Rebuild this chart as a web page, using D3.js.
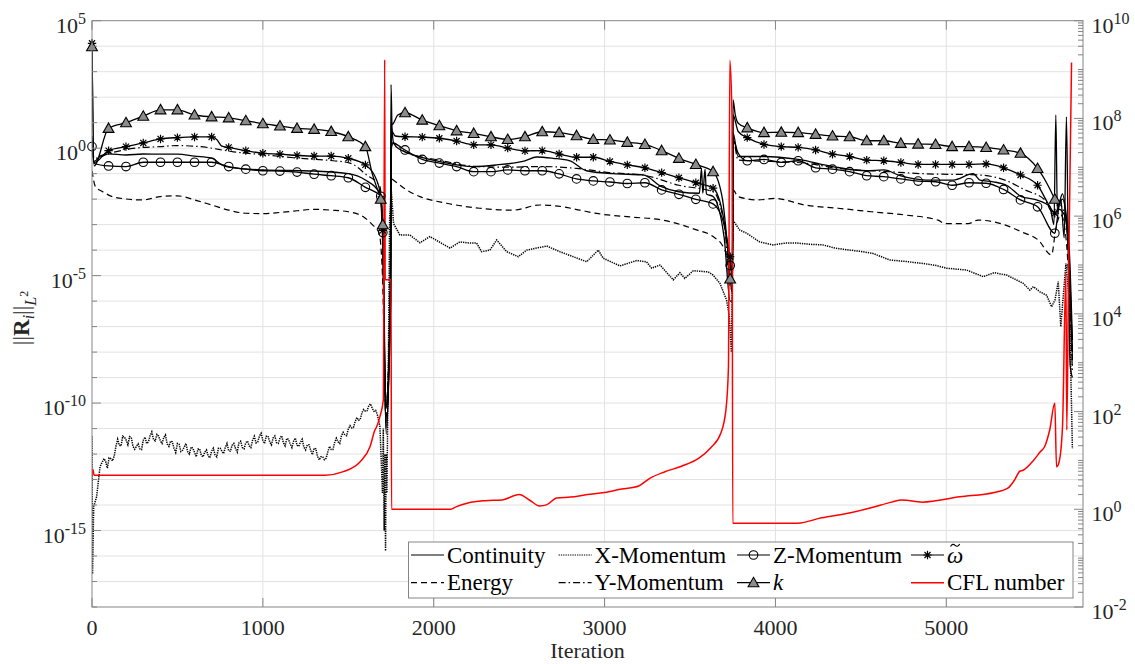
<!DOCTYPE html>
<html>
<head>
<meta charset="utf-8">
<script src="https://cdn.jsdelivr.net/npm/d3@7"></script>
<style>
  body { margin: 0; background: #fff; }
  svg text { font-family: "Liberation Serif", "DejaVu Serif", "Noto Serif", "Times New Roman", Times, serif; }
</style>
</head>
<body>
<svg id="vis" width="1135" height="664"></svg>
<script>
// residual histories: [iteration, value]
const markerIters = [0, 97, 199, 300, 401, 500, 600, 700, 800, 900, 1000, 1100, 1200, 1300, 1400, 1500, 1600, 1690, 1702,
  1832, 1933, 2033, 2134, 2234, 2335, 2433, 2534, 2635, 2734, 2836, 2934, 3031, 3133, 3236, 3334, 3435, 3534, 3635, 3735,
  3835, 3933, 4034, 4133, 4235, 4334, 4434, 4534, 4634, 4734, 4835, 4937, 5034, 5133, 5233, 5335, 5434, 5534, 5635];

const continuity = [[0, 2.0e0], [12, 3.0e-1], [50, 5.0e-1], [97, 6.0e-1], [199, 5.4e-1], [300, 5.9e-1], [401, 5.8e-1], [500, 5.8e-1],
  [600, 4.9e-1], [700, 4.1e-1], [760, 2.2e-1], [800, 1.8e-1], [1000, 1.4e-1], [1300, 1.26e-1], [1500, 1.0e-1], [1600, 5.6e-2],
  [1685, 1.7e-2], [1700, 3.0e-4], [1722, 6.0e-12], [1746, 1.0e-5], [1750, 3.1e2], [1756, 6.3e0], [1765, 1.6e0], [1800, 9.0e-1],
  [1832, 7.2e-1], [2033, 3.0e-1], [2234, 1.9e-1], [2368, 2.2e-1], [2534, 3.2e-1], [2602, 4.5e-1], [2699, 4.0e-1], [2797, 3.2e-1],
  [2894, 1.3e-1], [3050, 1.0e-1], [3226, 8.9e-2], [3333, 3.1e-2], [3435, 1.95e-2], [3555, 1.7e-2], [3567, 1.6e-1], [3575, 1.7e-2],
  [3588, 1.5e-1], [3596, 1.6e-2], [3635, 1.26e-2], [3700, 3.0e-4], [3735, 1.0e-6], [3748, 1.0e-6], [3752, 4.0e0], [3781, 4.7e-1],
  [3932, 4.7e-1], [4133, 3.6e-1], [4334, 1.9e-1], [4533, 1.3e-1], [4634, 1.4e-1], [4734, 8.1e-2], [4884, 5.6e-2], [5040, 5.6e-2],
  [5157, 1.0e-1], [5197, 5.6e-2], [5274, 4.8e-2], [5352, 3.5e-2], [5440, 1.26e-2], [5528, 9.3e-3], [5606, 5.0e-3], [5630, 1.0e-3],
  [5641, 2.0e1], [5650, 3.0e-3], [5670, 1.0e-2], [5690, 3.0e-4], [5703, 1.7e1], [5712, 1.0e-3], [5725, 3.0e-9], [5738, 1.0e-9]];

const xMom = [[0, 5.0e-12], [3, 2.0e-17], [10, 8.7e-15], [27, 2.1e-14], [47, 3.2e-13],
  [70, 6.6e-13], [80, 5.1e-13], [90, 2.8e-13], [100, 7.1e-13], [110, 6.6e-13], [120, 5.4e-13], [130, 8.3e-13], [140, 2.0e-12],
  [150, 3.8e-12], [160, 2.2e-12], [170, 2.1e-12], [180, 5.0e-12], [190, 4.6e-12], [200, 3.5e-12], [210, 2.3e-12], [220, 4.8e-12],
  [230, 4.4e-12], [240, 2.0e-12], [250, 1.55e-12], [260, 2.0e-12], [270, 2.5e-12], [280, 1.6e-12], [290, 1.5e-12], [300, 3.5e-12],
  [310, 4.6e-12], [320, 2.6e-12], [330, 3.0e-12], [340, 5.2e-12], [350, 7.4e-12], [360, 3.7e-12], [370, 3.3e-12], [380, 5.9e-12],
  [390, 5.0e-12], [400, 3.3e-12], [410, 2.6e-12], [420, 4.5e-12], [430, 5.6e-12], [440, 2.5e-12], [450, 2.0e-12], [460, 3.2e-12],
  [470, 3.0e-12], [480, 1.7e-12], [490, 1.15e-12], [500, 2.6e-12], [510, 2.4e-12], [520, 1.26e-12], [530, 1.4e-12], [540, 1.9e-12],
  [550, 2.6e-12], [560, 1.23e-12], [570, 1.0e-12], [580, 1.9e-12], [590, 1.7e-12], [600, 1.17e-12], [610, 7.8e-13], [620, 1.55e-12],
  [630, 1.6e-12], [640, 8.9e-13], [650, 7.8e-13], [660, 1.2e-12], [670, 1.45e-12], [680, 8.5e-13], [690, 7.1e-13], [700, 1.3e-12],
  [710, 1.7e-12], [720, 9.3e-13], [730, 7.8e-13], [740, 1.7e-12], [750, 1.7e-12], [760, 1.3e-12], [770, 1.05e-12], [780, 1.8e-12],
  [790, 2.6e-12], [800, 1.35e-12], [810, 1.3e-12], [820, 2.2e-12], [830, 2.6e-12], [840, 1.66e-12], [850, 1.2e-12], [860, 2.75e-12],
  [870, 3.2e-12], [880, 1.8e-12], [890, 1.6e-12], [900, 2.8e-12], [910, 3.2e-12], [920, 2.1e-12], [930, 1.8e-12], [940, 3.5e-12],
  [950, 5.0e-12], [960, 2.75e-12], [970, 3.0e-12], [980, 5.1e-12], [990, 6.6e-12], [1000, 3.4e-12], [1010, 2.6e-12], [1020, 5.0e-12],
  [1030, 5.1e-12], [1040, 3.0e-12], [1050, 2.3e-12], [1060, 4.3e-12], [1070, 5.1e-12], [1080, 2.8e-12], [1090, 2.6e-12],
  [1100, 4.1e-12], [1110, 5.2e-12], [1120, 2.8e-12], [1130, 2.1e-12], [1140, 4.1e-12], [1150, 3.8e-12], [1160, 2.45e-12],
  [1170, 1.8e-12], [1180, 3.2e-12], [1190, 4.2e-12], [1200, 2.2e-12], [1210, 2.0e-12], [1220, 2.9e-12], [1230, 3.8e-12],
  [1240, 1.86e-12], [1250, 1.45e-12], [1260, 2.3e-12], [1270, 2.3e-12], [1280, 1.4e-12], [1290, 9.5e-13], [1300, 1.7e-12],
  [1310, 1.6e-12], [1320, 8.1e-13], [1330, 5.9e-13], [1340, 7.9e-13], [1350, 7.9e-13], [1360, 6.0e-13], [1370, 6.8e-13],
  [1380, 1.2e-12], [1390, 2.0e-12], [1400, 1.5e-12], [1410, 1.5e-12], [1420, 2.8e-12], [1430, 4.2e-12], [1440, 3.0e-12],
  [1450, 2.6e-12], [1460, 5.2e-12], [1470, 7.1e-12], [1480, 5.6e-12], [1490, 5.2e-12], [1500, 9.5e-12], [1510, 1.3e-11],
  [1520, 1.07e-11], [1530, 1.1e-11], [1540, 1.86e-11], [1550, 2.7e-11], [1560, 2.1e-11], [1570, 2.3e-11], [1580, 4.2e-11],
  [1590, 5.6e-11], [1600, 4.8e-11], [1610, 5.0e-11], [1620, 7.9e-11], [1630, 9.3e-11], [1640, 6.3e-11], [1650, 4.8e-11],
  [1660, 5.2e-11], [1670, 3.5e-11], [1685, 1.2e-11],
  [1700, 3.0e-14], [1705, 1.0e-11], [1710, 1.0e-15], [1714, 1.0e-12], [1718, 1.6e-16], [1722, 1.0e-12], [1726, 3.0e-14],
  [1730, 1.0e-11], [1735, 1.0e-8], [1742, 1.8e-3], [1752, 2.0e-2], [1765, 1.1e-3], [1802, 3.9e-4], [1861, 3.9e-4], [1919, 1.95e-4],
  [1978, 3.4e-4], [2095, 1.2e-4], [2153, 2.1e-4], [2212, 1.9e-4], [2251, 1.9e-4], [2280, 8.7e-5], [2329, 1.0e-4], [2368, 2.5e-4],
  [2427, 8.7e-5], [2495, 5.5e-5], [2544, 1.0e-4], [2661, 1.45e-4], [2738, 8.7e-5], [2895, 3.5e-5], [2963, 1.0e-4], [2992, 4.8e-5],
  [3090, 2.4e-5], [3187, 3.9e-5], [3245, 3.5e-5], [3275, 1.95e-5], [3324, 2.6e-5], [3402, 6.8e-6], [3441, 1.3e-5], [3470, 7.8e-6],
  [3519, 1.55e-5], [3606, 1.4e-5], [3635, 1.05e-5], [3675, 5.0e-6], [3714, 1.1e-6], [3730, 2.5e-7], [3742, 1.0e-8], [3752, 1.5e-3],
  [3790, 6.2e-4], [3831, 4.6e-4], [3908, 2.1e-4], [3986, 1.6e-4], [4060, 1.9e-4], [4122, 1.9e-4], [4200, 1.7e-4], [4278, 1.6e-4],
  [4350, 1.2e-4], [4435, 1.0e-4], [4500, 8.9e-5], [4571, 7.4e-5], [4669, 4.1e-5], [4760, 3.6e-5], [4864, 3.0e-5], [4940, 2.5e-5],
  [5001, 1.95e-5], [5118, 1.66e-5], [5216, 9.1e-6], [5280, 1.3e-5], [5353, 1.05e-5], [5450, 5.0e-6], [5489, 2.7e-6], [5510, 3.7e-6],
  [5548, 2.3e-6], [5587, 1.7e-6], [5616, 6.0e-7], [5636, 1.1e-6], [5655, 5.8e-6], [5670, 1.0e-7], [5700, 3.0e-5], [5720, 1.0e-6],
  [5738, 1.6e-12]];

const yMom = [[0, 3.0e0], [12, 4.0e-1], [105, 6.3e-1], [242, 9.8e-1], [398, 1.15e0], [496, 1.26e0], [632, 1.15e0], [827, 7.2e-1],
  [1022, 5.4e-1], [1217, 4.0e-1], [1412, 3.2e-1], [1510, 2.6e-1], [1607, 8.9e-2], [1685, 3.1e-2], [1700, 1.0e-3], [1720, 2.5e-11],
  [1746, 1.0e-5], [1752, 1.6e0], [1763, 1.6e0], [1832, 7.1e-1], [2033, 3.4e-1], [2234, 1.95e-1], [2433, 1.8e-1], [2635, 1.9e-1],
  [2836, 1.6e-1], [3031, 1.1e-1], [3236, 8.5e-2], [3435, 3.5e-2], [3635, 1.95e-2], [3700, 1.0e-3], [3735, 1.0e-5], [3748, 1.0e-5],
  [3752, 2.5e0], [3781, 3.4e-1], [3976, 3.0e-1], [4171, 2.6e-1], [4366, 1.6e-1], [4659, 1.2e-1], [4854, 1.0e-1], [5186, 8.9e-2],
  [5343, 5.6e-2], [5460, 2.3e-2], [5577, 9.3e-3], [5620, 3.2e-3], [5660, 6.3e-3], [5700, 1.6e-3], [5738, 1.6e-9]];

const zMom = [[0, 1.15e0], [12, 2.5e-1], [97, 2.0e-1], [199, 1.9e-1], [300, 2.8e-1], [401, 2.8e-1], [500, 2.8e-1], [600, 2.8e-1],
  [700, 2.8e-1], [800, 1.9e-1], [900, 1.5e-1], [1000, 1.3e-1], [1100, 1.26e-1], [1200, 1.15e-1], [1300, 9.5e-2], [1400, 8.3e-2],
  [1500, 6.9e-2], [1600, 2.9e-2], [1690, 1.3e-2], [1702, 4.9e-4], [1720, 1.0e-11], [1748, 1.0e-6], [1752, 1.0e0], [1763, 1.55e0],
  [1832, 8.5e-1], [1933, 3.6e-1], [2033, 2.6e-1], [2134, 1.9e-1], [2234, 1.2e-1], [2335, 1.2e-1], [2433, 1.4e-1], [2534, 1.3e-1],
  [2635, 1.3e-1], [2734, 9.8e-2], [2836, 6.2e-2], [2934, 5.2e-2], [3031, 4.7e-2], [3133, 4.1e-2], [3236, 4.4e-2], [3334, 2.3e-2],
  [3435, 1.55e-2], [3534, 9.8e-3], [3635, 6.5e-3], [3700, 1.0e-3], [3735, 2.5e-5], [3748, 1.0e-5], [3752, 2.1e0], [3782, 6.3e-1],
  [3835, 3.2e-1], [3933, 3.6e-1], [4034, 2.75e-1], [4133, 3.2e-1], [4235, 1.7e-1], [4334, 1.5e-1], [4434, 1.2e-1], [4534, 8.3e-2],
  [4634, 7.6e-2], [4734, 6.2e-2], [4835, 5.1e-2], [4937, 4.8e-2], [5034, 3.5e-2], [5133, 4.4e-2], [5233, 4.2e-2], [5335, 2.4e-2],
  [5434, 9.3e-3], [5534, 5.0e-3], [5635, 4.6e-4], [5660, 4.0e-3], [5690, 2.5e-3], [5715, 1.6e-4], [5738, 5.0e-9]];

const energy = [[0, 1.3e-1], [20, 3.1e-2], [60, 2.0e-2], [140, 1.15e-2], [300, 9.3e-3], [400, 1.26e-2], [500, 1.35e-2], [600, 9.3e-3],
  [700, 5.9e-3], [800, 3.7e-3], [900, 2.8e-3], [1000, 2.7e-3], [1100, 3.0e-3], [1200, 3.5e-3], [1300, 4.0e-3], [1400, 3.7e-3],
  [1500, 3.2e-3], [1590, 2.0e-3], [1640, 1.0e-3], [1680, 4.7e-4], [1700, 1.0e-5], [1720, 6.3e-11], [1746, 1.0e-5], [1752, 6.3e-2],
  [1763, 5.6e-2], [1841, 2.3e-2], [1919, 1.26e-2], [2075, 6.9e-3], [2270, 4.4e-3], [2465, 3.7e-3], [2621, 5.9e-3], [2758, 5.0e-3],
  [2856, 3.7e-3], [2953, 2.75e-3], [3148, 2.0e-3], [3343, 1.5e-3], [3538, 6.2e-4], [3635, 3.4e-4], [3694, 1.35e-4], [3715, 5.5e-5],
  [3735, 3.0e-6], [3748, 3.0e-6], [3752, 2.3e-2], [3781, 1.26e-2], [3898, 9.3e-3], [3996, 1.07e-2], [4171, 5.9e-3], [4366, 4.4e-3],
  [4561, 3.2e-3], [4756, 2.4e-3], [4952, 1.5e-3], [4991, 1.1e-3], [5128, 1.1e-3], [5186, 1.5e-3], [5343, 9.8e-4], [5440, 5.2e-4],
  [5538, 2.5e-4], [5616, 6.5e-5], [5640, 6.3e-4], [5670, 2.5e-3], [5700, 3.2e-4], [5738, 3.0e-9]];

const omegaRes = [[0, 1.3e4], [12, 2.7e-1], [97, 8.0e-1], [199, 1.15e0], [300, 1.6e0], [401, 2.3e0], [500, 2.6e0], [600, 2.75e0],
  [700, 2.75e0], [730, 2.2e0], [760, 1.2e0], [800, 1.07e0], [900, 8.0e-1], [1000, 6.3e-1], [1100, 5.8e-1], [1200, 5.2e-1],
  [1300, 4.9e-1], [1400, 4.9e-1], [1500, 4.0e-1], [1600, 2.2e-1], [1675, 3.8e-2], [1690, 1.0e-2], [1702, 6.0e-4], [1720, 1.6e-11],
  [1748, 1.0e-6], [1752, 5.0e0], [1775, 3.0e0], [1832, 2.8e0], [1933, 2.7e0], [2033, 2.45e0], [2134, 1.9e0], [2234, 1.35e0],
  [2335, 1.35e0], [2433, 1.0e0], [2534, 7.8e-1], [2635, 8.0e-1], [2734, 5.9e-1], [2836, 4.4e-1], [2934, 4.4e-1], [3031, 3.0e-1],
  [3133, 2.2e-1], [3236, 1.7e-1], [3334, 1.1e-1], [3435, 6.9e-2], [3534, 4.4e-2], [3635, 2.7e-2], [3690, 3.0e-3], [3715, 3.0e-4],
  [3735, 5.5e-5], [3748, 1.0e-5], [3752, 2.0e1], [3782, 4.5e0], [3835, 2.6e0], [3933, 1.4e0], [4034, 1.15e0], [4133, 1.07e0],
  [4235, 8.5e-1], [4334, 5.8e-1], [4434, 4.7e-1], [4534, 3.4e-1], [4634, 3.2e-1], [4734, 2.75e-1], [4835, 2.3e-1], [4937, 2.3e-1],
  [5034, 2.3e-1], [5133, 2.3e-1], [5233, 2.4e-1], [5335, 1.7e-1], [5434, 8.9e-2], [5534, 3.5e-2], [5600, 6.0e-3], [5635, 2.8e-3],
  [5680, 1.0e-2], [5710, 3.0e-4], [5738, 1.0e-8]];

const kRes = [[0, 9.5e3], [12, 2.0e-1], [97, 6.0e0], [199, 1.0e1], [300, 1.8e1], [401, 3.2e1], [500, 3.2e1], [600, 2.0e1],
  [700, 1.7e1], [800, 1.55e1], [900, 1.2e1], [1000, 9.1e0], [1100, 7.4e0], [1200, 6.0e0], [1300, 5.5e0], [1400, 4.5e0],
  [1500, 2.8e0], [1600, 1.15e0], [1640, 1.0e-1], [1675, 2.0e-2], [1690, 1.0e-2], [1702, 1.0e-3], [1720, 1.0e-10], [1748, 1.0e-6],
  [1752, 8.0e0], [1763, 9.3e0], [1790, 2.0e1], [1832, 2.45e1], [1933, 1.26e1], [2033, 7.6e0], [2134, 4.8e0], [2234, 3.8e0],
  [2335, 2.8e0], [2433, 2.2e0], [2534, 2.8e0], [2635, 4.4e0], [2734, 4.1e0], [2836, 3.1e0], [2934, 2.2e0], [3031, 2.1e0],
  [3133, 1.7e0], [3236, 1.4e0], [3334, 8.0e-1], [3435, 4.0e-1], [3534, 2.3e-1], [3635, 1.2e-1], [3690, 1.0e-2], [3715, 3.0e-4],
  [3735, 7.4e-6], [3748, 2.0e-6], [3752, 7.8e1], [3765, 2.0e1], [3782, 9.5e0], [3835, 6.3e0], [3933, 4.1e0], [4034, 4.2e0],
  [4133, 4.1e0], [4235, 3.5e0], [4334, 3.0e0], [4434, 2.8e0], [4534, 1.95e0], [4634, 1.95e0], [4734, 1.55e0], [4835, 1.45e0],
  [4937, 1.4e0], [5034, 1.15e0], [5133, 1.15e0], [5233, 1.07e0], [5335, 8.5e-1], [5434, 6.3e-1], [5534, 1.6e-1], [5600, 3.0e-2],
  [5635, 1.0e-2], [5655, 6.0e-3], [5680, 1.6e-2], [5700, 3.0e-3], [5720, 1.0e-4], [5738, 3.0e-8]];

// right axis
const cfl = [[0, 5.0e0], [5, 6.6e0], [12, 5.0e0], [1364, 5.0e0], [1471, 5.9e0], [1568, 9.3e0], [1627, 1.9e1], [1656, 4.2e1],
  [1666, 4.9e1], [1685, 7.9e1], [1705, 1.74e2], [1713, 1.6e9], [1716, 5.0e4], [1750, 5.0e4], [1753, 1.0e0], [2100, 1.0e0],
  [2130, 1.12e0], [2200, 1.35e0], [2300, 1.5e0], [2400, 1.55e0], [2500, 2.0e0], [2560, 1.55e0], [2620, 1.17e0], [2660, 1.23e0],
  [2720, 1.7e0], [2800, 1.78e0], [2900, 2.0e0], [3000, 2.2e0], [3100, 2.6e0], [3200, 3.0e0], [3260, 4.2e0], [3350, 5.8e0],
  [3450, 7.6e0], [3550, 1.1e1], [3620, 1.8e1], [3680, 3.6e1], [3710, 1.07e2], [3725, 8.3e2], [3733, 1.55e9], [3746, 1.0e8],
  [3750, 5.2e-1], [4130, 5.2e-1], [4270, 6.7e-1], [4440, 8.5e-1], [4560, 1.07e0], [4680, 1.4e0], [4740, 1.55e0], [4860, 1.4e0],
  [5080, 1.8e0], [5280, 2.2e0], [5360, 2.7e0], [5400, 4.0e0], [5430, 6.0e0], [5450, 6.3e0], [5510, 1.0e1], [5550, 1.5e1],
  [5575, 1.9e1], [5605, 4.2e1], [5635, 1.5e2], [5645, 7.4e0], [5660, 9.3e0], [5680, 4.9e1], [5700, 6.8e4], [5705, 4.2e1],
  [5715, 4.3e4], [5733, 1.4e9]];

const xTicks = [0, 1000, 2000, 3000, 4000, 5000];
const leftLabelExp = [5, 0, -5, -10, -15];
const rightLabelExp = [10, 8, 6, 4, 2, 0, -2];
const legendNames = ["Continuity", "X-Momentum", "Z-Momentum", "ω", "Energy", "Y-Momentum", "k", "CFL number"];

// ---- layout ----
const L = 92, R = 1083, T = 20.7, B = 607;
const serif = '"Liberation Serif", "DejaVu Serif", "Noto Serif", "Times New Roman", Times, serif';
const svg = d3.select("#vis").attr("font-family", serif);
const x = d3.scaleLinear().domain([0, 5800]).range([L, R]);
const yL = d3.scaleLog().domain([1e-18, 1e5]).range([B, T]);
const yR = d3.scaleLog().domain([1e-2, 1e10]).range([B, T]);
const axisCol = "#858585", txtCol = "#262626";

svg.append("defs").append("clipPath").attr("id", "clip")
  .append("rect").attr("x", L).attr("y", T).attr("width", R - L).attr("height", B - T);

// grid
const grid = svg.append("g").attr("stroke", "#e2e2e2").attr("stroke-width", 1);
for (let e = -17; e <= 4; e++) {
  grid.append("line").attr("x1", L).attr("x2", R).attr("y1", yL(Math.pow(10, e))).attr("y2", yL(Math.pow(10, e)));
}
xTicks.slice(1).forEach(t => grid.append("line").attr("x1", x(t)).attr("x2", x(t)).attr("y1", T).attr("y2", B));

// series
const lineL = d3.line().x(d => x(d[0])).y(d => yL(d[1])).curve(d3.curveMonotoneX);
const lineRaw = d3.line().x(d => x(d[0])).y(d => yL(d[1]));
const lineR = d3.line().x(d => x(d[0])).y(d => yR(d[1])).curve(d3.curveMonotoneX);
const plot = svg.append("g").attr("clip-path", "url(#clip)").attr("fill", "none");

const series = [
  {data: xMom, dash: "1.3,1", w: 1.5, gen: lineRaw},
  {data: energy, dash: "6,4", w: 1.2, gen: lineL},
  {data: yMom, dash: "7,3,1.5,3", w: 1.2, gen: lineL},
  {data: continuity, dash: null, w: 1.3, gen: lineL},
  {data: zMom, dash: null, w: 1.3, gen: lineL},
  {data: omegaRes, dash: null, w: 1.3, gen: lineL},
  {data: kRes, dash: null, w: 1.3, gen: lineL}
];
series.forEach(s => {
  plot.append("path").datum(s.data).attr("d", s.gen)
    .attr("stroke", "#000").attr("stroke-width", s.w)
    .attr("stroke-dasharray", s.dash);
});

// markers
const mset = new Set(markerIters);
function circleMk(g, cx, cy) {
  g.append("circle").attr("cx", cx).attr("cy", cy).attr("r", 4.3)
    .attr("fill", "none").attr("stroke", "#000").attr("stroke-width", 1.1);
}
function starMk(g, cx, cy) {
  const r = 4.2, q = r * 0.72;
  g.append("path").attr("d",
    `M${cx},${cy - r}L${cx},${cy + r}M${cx - r},${cy}L${cx + r},${cy}` +
    `M${cx - q},${cy - q}L${cx + q},${cy + q}M${cx - q},${cy + q}L${cx + q},${cy - q}`)
    .attr("stroke", "#000").attr("stroke-width", 1.2).attr("fill", "none");
}
function triMk(g, cx, cy) {
  const s = 5.4;
  g.append("path").attr("d", `M${cx},${cy - s}L${cx + s},${cy + s * 0.75}L${cx - s},${cy + s * 0.75}Z`)
    .attr("fill", "#8c8c8c").attr("stroke", "#000").attr("stroke-width", 1.1);
}
const mk = svg.append("g");
zMom.filter(d => mset.has(d[0])).forEach(d => circleMk(mk, x(d[0]), yL(d[1])));
omegaRes.filter(d => mset.has(d[0])).forEach(d => starMk(mk, x(d[0]), yL(d[1])));
kRes.filter(d => mset.has(d[0])).forEach(d => triMk(mk, x(d[0]), yL(d[1])));

// CFL on the right axis
plot.append("path").datum(cfl).attr("d", lineR)
  .attr("stroke", "#ff0000").attr("stroke-width", 1.5);

// axes box and ticks
const ax = svg.append("g").attr("stroke", axisCol).attr("stroke-width", 1).attr("fill", "none");
ax.append("rect").attr("x", L).attr("y", T).attr("width", R - L).attr("height", B - T);
xTicks.forEach(t => {
  ax.append("line").attr("x1", x(t)).attr("x2", x(t)).attr("y1", B).attr("y2", B - 9);
  ax.append("line").attr("x1", x(t)).attr("x2", x(t)).attr("y1", T).attr("y2", T + 9);
});
for (let e = -18; e <= 5; e++) {
  const len = e % 5 === 0 ? 9 : 5;
  ax.append("line").attr("x1", L).attr("x2", L + len).attr("y1", yL(Math.pow(10, e))).attr("y2", yL(Math.pow(10, e)));
}
for (let e = -2; e <= 10; e++) {
  const yy = yR(Math.pow(10, e));
  ax.append("line").attr("x1", R).attr("x2", R - (e % 2 === 0 ? 9 : 5)).attr("y1", yy).attr("y2", yy);
  if (e < 10) {
    for (let m = 2; m <= 9; m++) {
      const ym = yR(m * Math.pow(10, e));
      ax.append("line").attr("x1", R).attr("x2", R - 5).attr("y1", ym).attr("y2", ym);
    }
  }
}

// tick labels
const lab = svg.append("g").attr("fill", txtCol);
xTicks.forEach(t => lab.append("text").attr("x", x(t)).attr("y", 635)
  .attr("text-anchor", "middle").attr("font-size", 22).text(t));

function powLabel(px, py, exp, anchor) {
  const t = lab.append("text").attr("x", px).attr("y", py + 12).attr("text-anchor", anchor).attr("font-size", 22);
  t.append("tspan").text("10");
  t.append("tspan").attr("font-size", 16).attr("dy", -9).text(String(exp));
}
leftLabelExp.forEach(e => powLabel(86, yL(Math.pow(10, e)), e, "end"));
rightLabelExp.forEach(e => powLabel(1091.5, yR(Math.pow(10, e)), e, "start"));

// axis titles
lab.append("text").attr("x", (L + R) / 2).attr("y", 658).attr("text-anchor", "middle")
  .attr("font-size", 22).text("Iteration");
const yl = lab.append("text").attr("transform", "translate(29,318) rotate(-90)")
  .attr("text-anchor", "middle").attr("font-size", 23);
yl.append("tspan").text("||");
yl.append("tspan").attr("font-weight", "bold").text("R");
yl.append("tspan").attr("font-style", "italic").attr("font-size", 16).attr("dy", 5).text("i");
yl.append("tspan").attr("dy", -5).text("||");
yl.append("tspan").attr("font-style", "italic").attr("font-size", 16).attr("dy", 7).text("L");
yl.append("tspan").attr("font-size", 12).attr("dy", -8).text("2");

// legend
const lg = svg.append("g");
lg.append("rect").attr("x", 408.5).attr("y", 542).attr("width", 664.5).attr("height", 56)
  .attr("fill", "#fff").attr("stroke", axisCol).attr("stroke-width", 1);
const legCols = [411, 558.6, 737, 911], legRows = [555, 582.7];
const legStyle = [
  {dash: null, mk: null}, {dash: "1.3,1", mk: null}, {dash: null, mk: "o"}, {dash: null, mk: "*"},
  {dash: "6,4", mk: null}, {dash: "7,3,1.5,3", mk: null}, {dash: null, mk: "^"}, {dash: null, mk: null, red: true}
];
legendNames.forEach((name, i) => {
  const cx = legCols[i % 4], cy = legRows[Math.floor(i / 4)];
  const st = legStyle[i];
  lg.append("line").attr("x1", cx).attr("x2", cx + 33).attr("y1", cy).attr("y2", cy)
    .attr("stroke", st.red ? "#ff0000" : "#000").attr("stroke-width", st.red ? 1.5 : 1.2)
    .attr("stroke-dasharray", st.dash);
  if (st.mk === "o") circleMk(lg, cx + 16.5, cy);
  if (st.mk === "*") starMk(lg, cx + 16.5, cy);
  if (st.mk === "^") triMk(lg, cx + 16.5, cy);
  const t = lg.append("text").attr("x", cx + 36).attr("y", cy + 7.5).attr("font-size", 23).attr("fill", "#000");
  if (name === "k" || name === "ω") t.attr("font-style", "italic");
  t.text(name);
  if (name === "ω") {
    // tilde accent drawn as a small stroke
    const a = cx + 39.5, b = cy - 8.5;
    lg.append("path").attr("d", `M${a},${b} c1.5,-2.6 3.2,-2.6 4.6,-1.2 s3,1.4 4.6,-1.2`)
      .attr("fill", "none").attr("stroke", "#000").attr("stroke-width", 1.1);
  }
});
</script>
</body>
</html>
